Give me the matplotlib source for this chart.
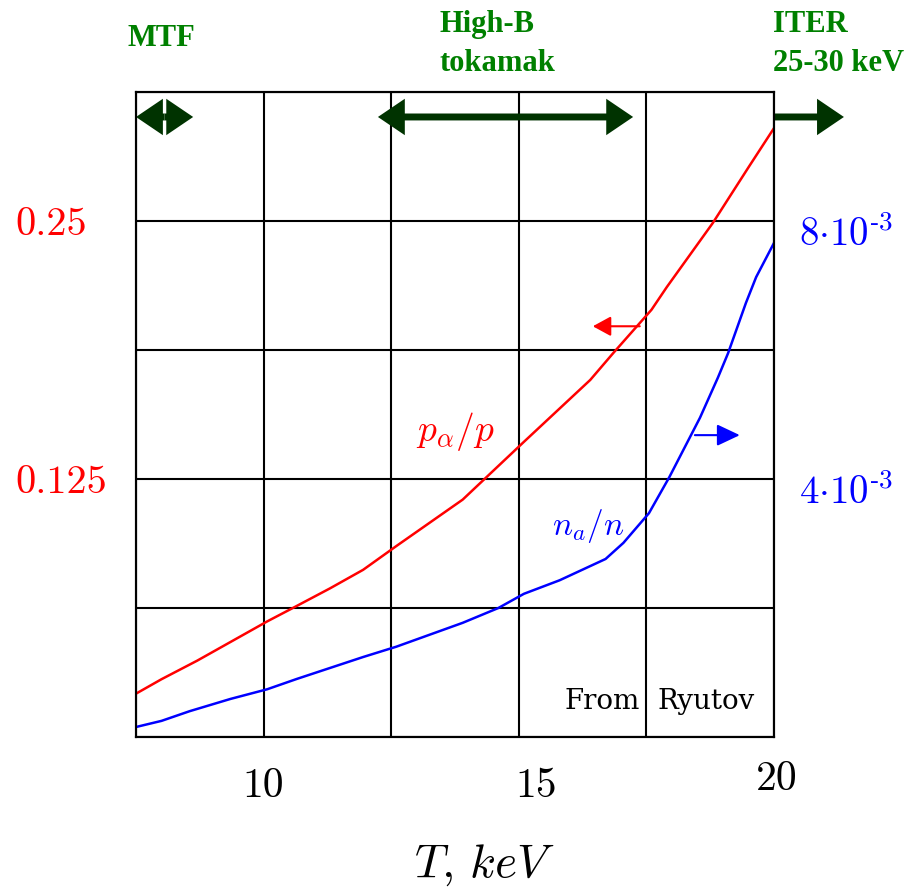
import matplotlib
matplotlib.use("Agg")
import matplotlib.pyplot as plt
import matplotlib.transforms as mtransforms

plt.rcParams["mathtext.fontset"] = "cm"

# ---- data ----
T_pa = [7.5, 8.0, 8.7, 10.07, 10.65, 11.3, 11.95, 12.6, 13.9, 14.2, 15.1,
        16.4, 16.85, 17.6, 17.9, 18.8, 19.5, 20.0]
p_alpha = [0.021, 0.028, 0.037, 0.056, 0.0635, 0.072, 0.081, 0.0925, 0.115,
           0.122, 0.143, 0.173, 0.186, 0.207, 0.218, 0.249, 0.276, 0.295]

T_na = [7.5, 8.0, 8.55, 9.35, 10.07, 10.65, 11.3, 11.95, 12.6, 13.9, 14.6,
        15.1, 15.8, 16.7, 17.05, 17.55, 17.95, 18.55, 18.9, 19.1, 19.45,
        19.65, 20.0]
n_alpha = [0.155e-3, 0.25e-3, 0.40e-3, 0.59e-3, 0.74e-3, 0.90e-3, 1.07e-3,
           1.24e-3, 1.40e-3, 1.77e-3, 2.00e-3, 2.22e-3, 2.43e-3, 2.76e-3,
           3.01e-3, 3.47e-3, 4.03e-3, 4.95e-3, 5.57e-3, 5.95e-3, 6.73e-3,
           7.13e-3, 7.66e-3]

x_ticks = [7.5, 10, 12.5, 15, 17.5, 20]
x_ticklabels = ["", "10", "", "15", "", "20"]
y_ticks = [0, 0.0625, 0.125, 0.1875, 0.25, 0.3125]
y_ticklabels = ["", "", "0.125", "", "0.25", ""]
y2_ticks = [4e-3, 8e-3]
y2_ticklabels = ["$4{\\cdot}10^{\u20103}$", "$8{\\cdot}10^{\u20103}$"]

# regimes marked with arrows at the top (T ranges)
mtf_range = (7.5, 8.62)
highb_range = (12.24, 17.24)
iter_range = (20.0, 21.37)

RED, BLUE = "#ff0000", "#0000ff"
DKGREEN, GREEN = "#003300", "#008000"

fig = plt.figure(figsize=(9.15, 8.88), dpi=100)
ax = fig.add_axes([136 / 915, 1 - 737 / 888, 638 / 915, 645 / 888])
ax2 = ax.twinx()

ax.set_xlim(7.5, 20)
ax.set_ylim(0, 0.3125)
ax2.set_ylim(0, 0.01)

ax.set_xticks(x_ticks)
ax.set_xticklabels(x_ticklabels, fontfamily="cmr10", fontsize=30)
ax.set_yticks(y_ticks)
ax.set_yticklabels(y_ticklabels, fontfamily="cmr10", fontsize=29, color=RED)
ax.tick_params(axis="x", length=0, pad=22)
ax.tick_params(axis="y", length=0, pad=87)
for lab in ax.get_yticklabels():
    lab.set_horizontalalignment("left")
ax.grid(True, color="black", lw=1.5)

ax2.set_yticks(y2_ticks)
ax2.set_yticklabels(y2_ticklabels, fontsize=28, color=BLUE)
ax2.tick_params(axis="y", length=0, pad=18)

for a in (ax, ax2):
    for s in a.spines.values():
        s.set_linewidth(1.5)

# small nudges so labels sit where they are in the original
def nudge(label, dx, dy):
    label.set_transform(label.get_transform() + mtransforms.ScaledTranslation(dx / 100, dy / 100, fig.dpi_scale_trans))

xl = ax.get_xticklabels()
nudge(xl[3], 17, 0)
nudge(xl[5], 3, 7)
for lab in ax2.get_yticklabels():
    nudge(lab, 0, -10)

# curves
ax.plot(T_pa, p_alpha, color=RED, lw=1.8)
ax2.plot(T_na, n_alpha, color=BLUE, lw=1.8)

# which-axis arrows
ax.annotate("", xy=(16.45, 0.199), xytext=(17.37, 0.199),
            arrowprops=dict(arrowstyle="-|>,head_length=0.55,head_width=0.3",
                            color=RED, lw=1.5, mutation_scale=20,
                            shrinkA=0, shrinkB=0))
ax2.annotate("", xy=(19.33, 4.68e-3), xytext=(18.45, 4.68e-3),
             arrowprops=dict(arrowstyle="-|>,head_length=0.7,head_width=0.33",
                             color=BLUE, lw=1.5, mutation_scale=20,
                             shrinkA=0, shrinkB=0))

ax.text(13.75, 0.1478, r"$p_\alpha/p$", color=RED, fontsize=27,
        ha="center", va="center")
ax.text(16.36, 0.1022, r"$n_a/n$", color=BLUE, fontsize=24,
        ha="center", va="center")

# regime arrows along the top
y_arr = 0.3004
green_arrow = dict(color=DKGREEN, lw=5, mutation_scale=20, shrinkA=0,
                   shrinkB=0, joinstyle="miter", capstyle="butt")
head = "-|>,head_length=0.62,head_width=0.42"
dbl = "<|-|>,head_length=0.62,head_width=0.42"

mid = (mtf_range[0] + mtf_range[1]) / 2
ax.annotate("", xy=(mtf_range[0], y_arr), xytext=(mid, y_arr),
            arrowprops=dict(arrowstyle=head, **green_arrow))
ax.annotate("", xy=(mtf_range[1], y_arr), xytext=(mid, y_arr),
            arrowprops=dict(arrowstyle=head, **green_arrow))
ax.annotate("", xy=(highb_range[1], y_arr), xytext=(highb_range[0], y_arr),
            arrowprops=dict(arrowstyle=dbl, **green_arrow))
ax.annotate("", xy=(iter_range[1], y_arr), xytext=(iter_range[0], y_arr),
            annotation_clip=False,
            arrowprops=dict(arrowstyle=head, **green_arrow))

label_kw = dict(color=GREEN, fontfamily="Liberation Serif", fontweight="bold",
                fontsize=22, ha="left", va="center", linespacing=1.42)
fig.text(127 / 915, 1 - 38 / 888, "MTF", **label_kw)
fig.text(440 / 915, 1 - 44 / 888, "High-B\ntokamak", **label_kw)
fig.text(773 / 915, 1 - 44 / 888, "ITER\n25-30 keV", **label_kw)

ax.text(17.37, 0.0174, "From", fontfamily="DejaVu Serif", fontsize=20,
        ha="right", va="center")
ax.text(17.71, 0.0174, "Ryutov", fontfamily="DejaVu Serif", fontsize=20,
        ha="left", va="center")

ax.set_xlabel(r"$T,\,keV$", fontsize=34)
ax.xaxis.set_label_coords((484 - 136) / 638, (737 - 842) / 645)

fig.savefig("out.png", dpi=100)
